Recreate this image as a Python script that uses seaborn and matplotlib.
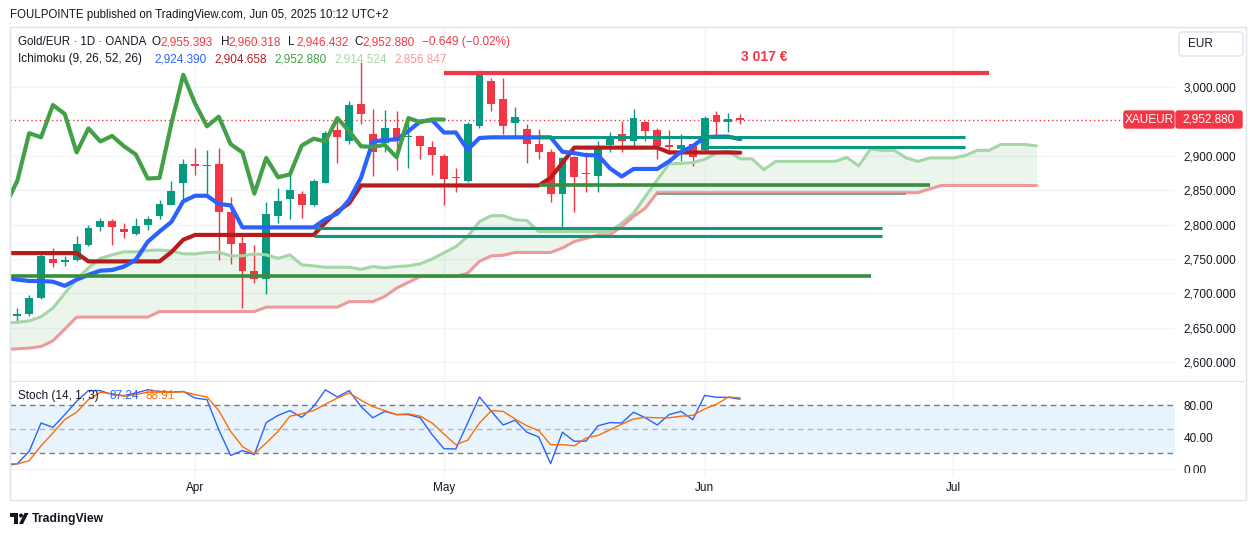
import numpy as np
import pandas as pd
import matplotlib
matplotlib.use("Agg")
import matplotlib.pyplot as plt
import seaborn as sns
from matplotlib.patches import FancyBboxPatch, Rectangle, Circle, Polygon
from matplotlib.transforms import IdentityTransform

# ---------------- data ----------------
# daily candles Gold/EUR (OANDA), 2025-03-11 .. 2025-06-05
opens = [2667, 2670, 2694, 2750, 2746, 2748, 2771, 2796, 2805, 2793,
         2787, 2799, 2812, 2829, 2861, 2888, 2885, 2888, 2818, 2774,
         2733, 2721, 2812, 2838, 2844, 2828, 2861, 2938, 2921, 2976,
         2932, 2919, 2940, 2927, 2929, 2913, 2900, 2869, 2863, 2944,
         3009, 2983, 2948, 2939, 2918, 2906, 2845, 2898, 2875, 2871,
         2916, 2932, 2922, 2950, 2938, 2916, 2910, 2918, 2908, 2960,
         2950, 2955.393]
highs = [2679, 2698, 2757, 2766, 2754, 2784, 2799, 2810, 2808, 2802,
         2810, 2812, 2836, 2863, 2896, 2912, 2908, 2912, 2840, 2788,
         2771, 2833, 2854, 2875, 2849, 2867, 2936, 2955, 2980, 3036,
         2968, 2967, 2965, 2955, 2931, 2921, 2903, 2882, 2950, 3020,
         3013, 3014, 2971, 2947, 2939, 2910, 2898, 2900, 2905, 2921,
         2935, 2951, 2968, 2951, 2941, 2937, 2932, 2919, 2958, 2965,
         2963, 2960.318]
lows = [2657, 2667, 2692, 2738, 2740, 2747, 2769, 2791, 2771, 2781,
        2785, 2792, 2808, 2828, 2838, 2872, 2844, 2748, 2743, 2679,
        2715, 2699, 2802, 2808, 2810, 2827, 2860, 2890, 2917, 2946,
        2871, 2906, 2879, 2882, 2896, 2872, 2829, 2847, 2862, 2940,
        2966, 2932, 2927, 2890, 2896, 2833, 2790, 2819, 2848, 2848,
        2905, 2906, 2910, 2921, 2896, 2903, 2892, 2885, 2904, 2929,
        2935, 2946.432]
closes = [2670, 2694, 2755, 2744, 2748, 2772, 2795, 2805, 2796, 2789,
          2798, 2808, 2830, 2849, 2888, 2885, 2887, 2818, 2772, 2733,
          2721, 2816, 2835, 2851, 2828, 2864, 2933, 2927, 2974, 2961,
          2905, 2940, 2921, 2929, 2914, 2902, 2867, 2868, 2947, 3018,
          2976, 2943, 2957, 2917, 2905, 2845, 2897, 2869, 2873, 2915,
          2925, 2921, 2955, 2936, 2914, 2913, 2916, 2898, 2955, 2949,
          2953, 2952.880]
change_txt = "\u22120.649 (\u22120.02%)"

# Ichimoku (9, 26, 52, 26), from 2025-03-10
tenkan = [2723, 2720, 2718, 2718, 2717, 2711, 2720, 2727, 2733, 2734,
          2739, 2749, 2775, 2790, 2804, 2834, 2842, 2842, 2830, 2828,
          2796, 2796, 2796, 2796, 2796, 2796, 2796, 2808, 2816, 2836,
          2868, 2921, 2923, 2924, 2936, 2950, 2952, 2934, 2934, 2909,
          2926, 2927, 2927, 2927, 2927, 2927, 2927, 2906, 2904, 2901,
          2901, 2882, 2870, 2881, 2881, 2881, 2892, 2906, 2914, 2927,
          2928, 2928, 2924.390]
kijun = [2758.6, 2758.6, 2758.6, 2758.6, 2758.6, 2758.6, 2758.6,
         2746.5, 2746.5, 2746.5, 2746.5, 2746.5, 2746.5, 2746.5,
         2760, 2778, 2785, 2785, 2785, 2785, 2785, 2785, 2785, 2785,
         2785, 2785, 2785, 2803, 2819, 2831, 2857, 2857, 2857, 2857,
         2857, 2857, 2857, 2857, 2857, 2857, 2857, 2857, 2857, 2857,
         2857, 2857, 2868, 2890, 2912, 2912, 2912, 2912, 2912, 2912,
         2912, 2912, 2905, 2905, 2905, 2905, 2905, 2905, 2904.658]
# leading spans, from 2025-03-10 to 26 bars after the last candle
senkou_a = [2657, 2658, 2660, 2666, 2678.5, 2700, 2720.7, 2737, 2751, 2756,
            2760.5, 2760.5, 2762.4, 2763, 2762, 2757.5, 2757.5, 2759.5, 2760, 2754.6,
            2754.6, 2757.5, 2756, 2751, 2756, 2741.5, 2740, 2738, 2738, 2738,
            2735, 2739, 2737, 2739, 2740, 2743, 2750, 2759, 2768, 2782.7,
            2804.5, 2813, 2813, 2807, 2806, 2790, 2790, 2790, 2790, 2790,
            2790, 2790, 2802, 2816.7, 2841, 2865, 2888.4, 2889, 2890.3, 2895,
            2904, 2906.4, 2895.7, 2895.7, 2880, 2892, 2892, 2892, 2892, 2892,
            2892, 2897.6, 2885.5, 2910, 2908, 2908, 2897, 2892, 2897, 2897,
            2897, 2900.6, 2908, 2908, 2916.6, 2916.6, 2916.6, 2914.524]
senkou_b = [2618, 2619.5, 2620.4, 2622.7, 2631, 2648, 2665.5, 2665.5, 2665.5, 2665.5,
            2665.5, 2665.5, 2665.5, 2673.6, 2673.6, 2673.6, 2673.6, 2673.6, 2673.6, 2673.6,
            2673.6, 2673.6, 2680, 2680, 2680, 2680, 2680, 2680, 2680, 2688,
            2688, 2688, 2695.5, 2707.6, 2716, 2724.5, 2724.5, 2724.5, 2724.5, 2729.4,
            2746.6, 2754.6, 2755.5, 2759.5, 2759.5, 2759.5, 2759.5, 2766, 2775.5, 2780,
            2785, 2785, 2797, 2812, 2824, 2846.5, 2846.5, 2846.5, 2846.5, 2846.5,
            2846.5, 2846.5, 2846.5, 2846.5, 2846.5, 2846.5, 2846.5, 2846.5, 2846.5, 2846.5,
            2846.5, 2846.5, 2846.5, 2846.5, 2846.5, 2846.5, 2846.5, 2846.5, 2852, 2857,
            2857, 2857, 2857, 2857, 2857, 2857, 2857, 2856.847]

# Stochastic (14, 1, 3), from 2025-03-10
stoch_k = [4, 6.7, 22, 57.5, 52, 68, 84.6, 98, 98, 93,
           91.7, 95, 99, 97, 96, 97, 88.7, 86.7, 49, 17,
           23, 18, 58, 67, 73, 64.6, 78, 99, 90, 98,
           78, 64, 72, 68, 68, 64, 43, 25.4, 25, 57.5,
           90, 72, 55, 61, 46, 40, 6.7, 46, 34.6, 35,
           54, 58, 57.5, 71, 64, 55, 68, 72, 61.7, 92,
           89.6, 89.6, 87.24]
stoch_d = [7, 6.3, 10.4, 29, 45, 61.7, 71, 86.7, 96, 94,
           91, 93, 96, 96, 96, 96.5, 93, 90, 73, 47,
           28, 19, 32.5, 47, 66, 69, 73, 81, 88.7, 95,
           86, 78, 73, 68, 69, 66, 57.5, 43.7, 30.4, 36,
           57.5, 73, 72, 62.5, 54, 48, 30.4, 30.4, 29, 38.7,
           42, 49, 56, 62.5, 64.6, 64, 64, 66, 67, 75,
           81, 90, 88.91]

# horizontal levels drawn by the author
level_price = [3020, 2927, 2912.7, 2857, 2795, 2783.3, 2725.6, 2844.4]
level_start = ["2025-05-01", "2025-05-13", "2025-06-02", "2025-05-13",
               "2025-04-15", "2025-04-15", "2025-03-03", "2025-05-27"]
level_end = ["2025-07-04", "2025-07-02", "2025-07-02", "2025-06-27",
             "2025-06-23", "2025-06-23", "2025-06-20", "2025-06-25"]

# 2,950 is hidden behind the last-price label on the original scale
price_ticks = [2600, 2650, 2700, 2750, 2800, 2850, 2900, 3000]
stoch_ticks = [0, 40, 80]
month_labels = ["Apr", "May", "Jun", "Jul"]

# ---------------- colours ----------------
UP, DOWN = "#089981", "#f23645"
TEXT = "#131722"
level_colors = [DOWN, UP, UP, "#388e3c", UP, UP, "#388e3c", "#6a9c8f"]
level_widths = [3.0, 2.2, 2.2, 2.6, 2.2, 2.2, 2.6, 1.2]

# ---------------- bar axis (trading days, Good Friday closed) ----------------
days = pd.bdate_range("2025-03-03", "2025-08-29")
days = days[days != pd.Timestamp("2025-04-18")]
pos_of = {d: i for i, d in enumerate(days)}


def P(s):
    return pos_of[pd.Timestamp(s)]


p0 = P("2025-03-10")
cpos = np.arange(len(closes)) + P("2025-03-11")
lpos = np.arange(len(tenkan)) + p0
spos = np.arange(len(senkou_a)) + p0
chikou = closes[24:]
chpos = np.arange(len(chikou)) + p0
month_pos = [P(d) for d in ["2025-04-01", "2025-05-01", "2025-06-02", "2025-07-01"]]

# ---------------- figure ----------------
sns.set_style("white")
plt.rcParams["font.family"] = ["Liberation Sans", "DejaVu Sans"]

W, H = 1257, 536
fig = plt.figure(figsize=(W / 100, H / 100), dpi=100)
fig.patch.set_facecolor("white")


def rect(x0, y0, x1, y1):
    return [x0 / W, 1 - y1 / H, (x1 - x0) / W, (y1 - y0) / H]


ax = fig.add_axes(rect(10, 28, 1175, 380))
ax2 = fig.add_axes(rect(10, 383, 1175, 478), sharex=ax)

x_lo = P("2025-03-11") - 0.62
x_hi = x_lo + 1165 / 11.85

# cloud
a = np.array(senkou_a)
b = np.array(senkou_b)
ax.fill_between(spos, a, b, where=a >= b, interpolate=True, color="#43a047", alpha=0.1, lw=0, zorder=1)
ax.fill_between(spos, a, b, where=a < b, interpolate=True, color="#f44336", alpha=0.1, lw=0, zorder=1)

# candles
o, h, l, c = map(np.array, (opens, highs, lows, closes))
col = np.where(c >= o, UP, DOWN)
ax.vlines(cpos, l, h, colors=col, lw=1.0, zorder=2)
ax.bar(cpos, np.maximum(np.abs(c - o), 2.0), bottom=np.minimum(o, c), width=0.66,
       color=col, lw=0, zorder=2.1)


def line(axis, x, y, color, lw, z):
    sns.lineplot(x=x, y=y, ax=axis, color=color, linewidth=lw, zorder=z,
                 solid_joinstyle="round", solid_capstyle="round", legend=False)


line(ax, spos, senkou_a, "#a5d6a7", 2.2, 3)
line(ax, spos, senkou_b, "#ef9a9a", 2.2, 3)
line(ax, lpos, kijun, "#b71c1c", 3.0, 3.2)
line(ax, lpos, tenkan, "#2962ff", 3.0, 3.3)
line(ax, chpos, chikou, "#43a047", 3.0, 3.4)

# author levels
for lv, s, e, cc, lw in zip(level_price, level_start, level_end, level_colors, level_widths):
    ax.hlines(lv, P(s), P(e), colors=cc, lw=lw, zorder=4, capstyle="butt")
ax.text(P("2025-06-09"), 3044, "3 017 €", color=DOWN, fontsize=10, fontweight="bold",
        ha="center", va="center", zorder=5)

# last price line
ax.axhline(closes[-1], color=DOWN, ls=(0, (1, 2)), lw=1, zorder=1.5)

ax.set_xlim(x_lo, x_hi)
ax.set_ylim(2574, 3086)
ax.set_yticks(price_ticks)
ax.set_yticklabels([f"{v:,.3f}" for v in price_ticks])
ax.yaxis.tick_right()
ax.tick_params(axis="y", length=0, pad=6, labelsize=8.5, labelcolor=TEXT)
ax.tick_params(axis="x", length=0, labelbottom=False)
ax.set_xticks(month_pos)
ax.grid(True, color="#f0f3fa", lw=1)
ax.set_axisbelow(True)
ax.set_xlabel("")
ax.set_ylabel("")
for s in ax.spines.values():
    s.set_visible(False)

# stochastic panel
ax2.axhspan(20, 80, color="#2196f3", alpha=0.1, lw=0, zorder=0.5)
ax2.axhline(80, color="#787b86", ls=(0, (4, 3)), lw=1, zorder=1)
ax2.axhline(20, color="#787b86", ls=(0, (4, 3)), lw=1, zorder=1)
ax2.axhline(50, color="#b2b5be", ls=(0, (4, 3)), lw=1, zorder=1)
line(ax2, lpos, stoch_k, "#2962ff", 1.0, 3)
line(ax2, lpos, stoch_d, "#ff6d00", 1.0, 3.1)
ax2.set_ylim(-11.25, 107.5)
ax2.set_yticks(stoch_ticks)
ax2.set_yticklabels([f"{v:.2f}" for v in stoch_ticks])
ax2.yaxis.tick_right()
ax2.tick_params(axis="y", length=0, pad=6, labelsize=8.5, labelcolor=TEXT)
ax2.set_xticks(month_pos)
ax2.set_xticklabels(month_labels)
ax2.tick_params(axis="x", length=0, pad=3, labelsize=8.5, labelcolor=TEXT)
ax2.grid(True, color="#f0f3fa", lw=1)
ax2.set_axisbelow(True)
ax2.set_xlabel("")
ax2.set_ylabel("")
for s in ax2.spines.values():
    s.set_visible(False)
ax2.set_xlim(x_lo, x_hi)


# ---------------- frame, labels, legends ----------------
def box(x0, y0, x1, y1, face, edge=None, r=2.0, lw=1.0, z=5):
    fig.add_artist(FancyBboxPatch((x0, H - y1), x1 - x0, y1 - y0,
                                  boxstyle=f"round,pad=0,rounding_size={r}",
                                  fc=face, ec=edge or face, lw=lw, zorder=z,
                                  transform=IdentityTransform()))


def txt(x, y, s, color=TEXT, size=8.5, **kw):
    fig.text(x / W, 1 - y / H, s, color=color, fontsize=size, va="center", ha="left", **kw)


# the 0.00 label is half hidden on the original
fig.add_artist(Rectangle((1176, H - 499), 68, 26, fc="white", ec="none", zorder=3,
                         transform=IdentityTransform()))
fig.add_artist(Rectangle((9.5, H - 500), 1236, 473.5, fc="none", ec="#e0e3eb", lw=1,
                         zorder=4, transform=IdentityTransform()))
fig.add_artist(Rectangle((10, H - 382), 1235, 1.5, fc="#e0e3eb", ec="none", zorder=4,
                         transform=IdentityTransform()))

txt(10, 15, "FOULPOINTE published on TradingView.com, Jun 05, 2025 10:12 UTC+2", size=8.3)

txt(18, 42, "Gold/EUR · 1D · OANDA", size=8.3)
for lab, val, x in [("O", opens[-1], 152), ("H", highs[-1], 220.5), ("L", lows[-1], 288),
                    ("C", closes[-1], 354)]:
    txt(x, 42, lab)
    txt(x + 8, 42, f"{val:,.3f}", color=DOWN)
txt(421.5, 42, change_txt, color=DOWN)

txt(18, 59, "Ichimoku (9, 26, 52, 26)")
for val, cc, x in [(tenkan[-1], "#2962ff", 154), (kijun[-1], "#b71c1c", 214),
                   (closes[-1], "#43a047", 274), (senkou_a[-1], "#a5d6a7", 334),
                   (senkou_b[-1], "#ef9a9a", 394)]:
    txt(x, 59, f"{val:,.3f}", color=cc)

txt(18, 396, "Stoch (14, 1, 3)")
txt(109, 396, f"{stoch_k[-1]:.2f}", color="#2962ff")
txt(145.5, 396, f"{stoch_d[-1]:.2f}", color="#ff6d00")

# price scale labels for the last close
fig.canvas.draw()
ypx = H - ax.transData.transform((x_lo, closes[-1]))[1]
box(1124, ypx - 8.5, 1174, ypx + 8.5, DOWN)
box(1176, ypx - 8.5, 1242, ypx + 8.5, DOWN)
fig.text(1149 / W, 1 - ypx / H, "XAUEUR", color="white", fontsize=8.5, ha="center", va="center", zorder=6)
fig.text(1209 / W, 1 - ypx / H, f"{closes[-1]:,.3f}", color="white", fontsize=8.5,
         ha="center", va="center", zorder=6)

# currency button
box(1179, 32, 1243, 56, "white", edge="#e0e3eb", r=4)
fig.text(1188 / W, 1 - 44 / H, "EUR", color=TEXT, fontsize=8.5, ha="left", va="center", zorder=6)

# TradingView logo
fig.add_artist(Polygon([(10, H - 513), (18, H - 513), (18, H - 524), (14, H - 524),
                        (14, H - 517), (10, H - 517)], closed=True, fc=TEXT, ec="none",
                       transform=IdentityTransform()))
fig.add_artist(Circle((21, H - 515.5), 2.0, fc=TEXT, ec="none", transform=IdentityTransform()))
fig.add_artist(Polygon([(19, H - 524), (24.5, H - 513), (28.5, H - 513), (23, H - 524)],
                       closed=True, fc=TEXT, ec="none", transform=IdentityTransform()))
txt(32, 519, "TradingView", size=8.8, fontweight="bold")

fig.savefig("out.png", dpi=100)
